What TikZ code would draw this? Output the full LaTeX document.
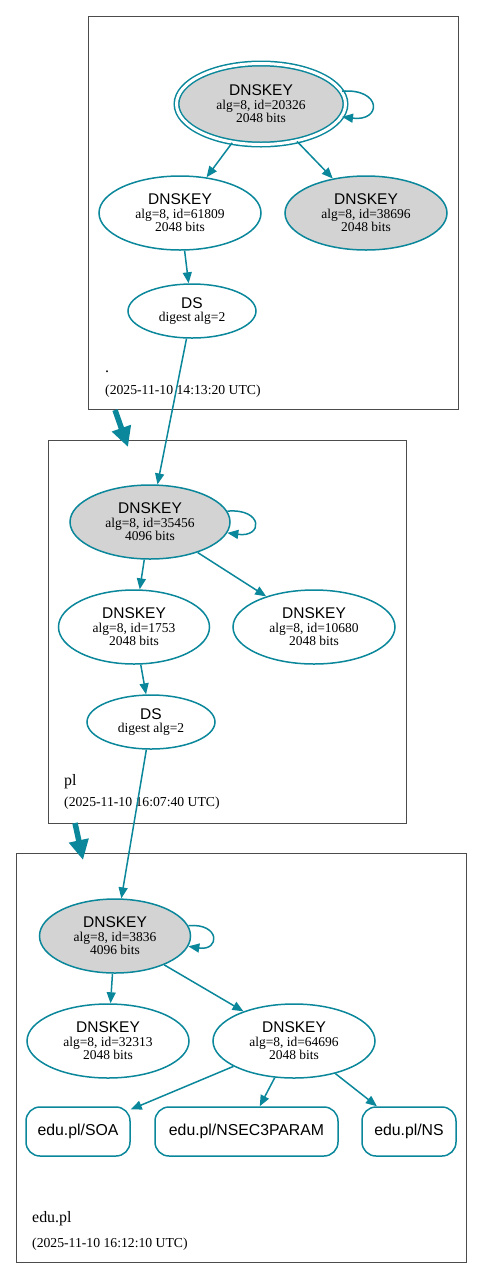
\documentclass[tikz,border=0pt]{standalone}
\usepackage{fontspec}
\setmainfont{Liberation Serif}
\setsansfont{Liberation Sans}
\usetikzlibrary{arrows.meta,positioning}
\usetikzlibrary{shapes.geometric}
\definecolor{secteal}{HTML}{0A879A}
\definecolor{keygray}{HTML}{D3D3D3}
\newcommand{\rrtitle}[1]{{\sffamily\fontsize{15.5}{13.5}\selectfont #1}}

\begin{document}
\begin{tikzpicture}
		[x=1pt,y=-1pt,
		key node/.style={ellipse,draw=secteal,line width=1.5pt,inner sep=0pt,minimum width=162pt,minimum height=74pt,align=center,font=\fontsize{13.5}{13.5}\selectfont},
		ds node/.style={key node,minimum width=128pt,minimum height=54pt},
		rr node/.style={draw=secteal,line width=1.5pt,rounded corners=14pt,minimum height=49pt,inner sep=0pt,font=\sffamily\fontsize{15.8}{16}\selectfont},
		zone box/.style={draw=black!70,line width=0.8pt,anchor=north west,inner sep=0pt},
		zone name/.style={anchor=base west,inner sep=0pt,font=\fontsize{15.9}{16}\selectfont},
		zone time/.style={anchor=base west,inner sep=0pt,font=\fontsize{13.7}{14}\selectfont},
		sig/.style={draw=secteal,line width=1.5pt,-{Triangle[length=11pt,width=9pt]}},
		deleg/.style={draw=secteal,line width=5.5pt,-{Triangle[length=20pt,width=19pt]}}]
		\useasboundingbox (0,0) rectangle (483,1278);
		
		% zones
		\node[zone box,minimum width=370pt,minimum height=393pt] (rootzone) at (88,16) {};
		\node[zone box,minimum width=358pt,minimum height=383pt] (plzone) at (48,440) {};
		\node[zone box,minimum width=450pt,minimum height=409pt] (eduzone) at (16,853) {};
		
		\node[zone name] (rootname) at (105,372) {.};
		\node[zone time] (roottime) at (105,394) {(2025-11-10 14:13:20 UTC)};
		\node[zone name] (plname) at (64,785) {pl};
		\node[zone time] (pltime) at (64,806) {(2025-11-10 16:07:40 UTC)};
		\node[zone name] (eduname) at (32,1222) {edu.pl};
		\node[zone time] (edutime) at (32,1247) {(2025-11-10 16:12:10 UTC)};
		
		% root
		\node[key node,fill=keygray,double=white,double distance=3pt,minimum width=169pt,minimum height=81pt] (rootksk) at (261,104) {\rrtitle{DNSKEY}\\alg=8, id=20326\\2048 bits};
		\node[key node] (rootzsk) at (180,213) {\rrtitle{DNSKEY}\\alg=8, id=61809\\2048 bits};
		\node[key node,fill=keygray] (rootold) at (366,213) {\rrtitle{DNSKEY}\\alg=8, id=38696\\2048 bits};
		\node[ds node] (rootds) at (192,311) {\rrtitle{DS}\\digest alg=2};
		
		% pl
		\node[key node,fill=keygray,minimum width=160pt] (plksk) at (150,522) {\rrtitle{DNSKEY}\\alg=8, id=35456\\4096 bits};
		\node[key node,minimum width=151pt] (plzska) at (134,627) {\rrtitle{DNSKEY}\\alg=8, id=1753\\2048 bits};
		\node[key node] (plzskb) at (314,627) {\rrtitle{DNSKEY}\\alg=8, id=10680\\2048 bits};
		\node[ds node] (plds) at (151,722) {\rrtitle{DS}\\digest alg=2};
		
		% edu.pl
		\node[key node,fill=keygray,minimum width=151pt] (eduksk) at (115,936) {\rrtitle{DNSKEY}\\alg=8, id=3836\\4096 bits};
		\node[key node] (eduzska) at (108,1041) {\rrtitle{DNSKEY}\\alg=8, id=32313\\2048 bits};
		\node[key node] (eduzskb) at (294,1041) {\rrtitle{DNSKEY}\\alg=8, id=64696\\2048 bits};
		\node[rr node,minimum width=104pt] (edusoa) at (78,1131.5) {edu.pl/SOA};
		\node[rr node,minimum width=183pt] (edunsec) at (246.5,1131.5) {edu.pl/NSEC3PARAM};
		\node[rr node,minimum width=94pt] (eduns) at (409,1131.5) {edu.pl/NS};
		
		% signatures and delegations
		\draw[sig] (rootksk.9) .. controls +(40,-3) and +(40,5) .. (rootksk.-9);
		\draw[sig] (rootksk) to (rootzsk);
		\draw[sig] (rootksk) to (rootold);
		\draw[sig] (rootzsk) to (rootds);
		\draw[sig] (rootds) to (plksk);
		
		\draw[sig] (plksk.8) .. controls +(36,-3) and +(36,5) .. (plksk.-8);
		\draw[sig] (plksk) to (plzska);
		\draw[sig] (plksk) to (plzskb);
		\draw[sig] (plzska) to (plds);
		\draw[sig] (plds) to (eduksk);
		
		\draw[sig] (eduksk.8) .. controls +(32,-3) and +(32,5) .. (eduksk.-8);
		\draw[sig] (eduksk) to (eduzska);
		\draw[sig] (eduksk) to (eduzskb);
		\draw[sig] (eduzskb) to (edusoa);
		\draw[sig] (eduzskb) to (edunsec);
		\draw[sig] (eduzskb) to (eduns);
		
		\coordinate (rootout) at (115,410);
		\coordinate (plin) at (128,447);
		\coordinate (plout) at (75,823);
		\coordinate (eduin) at (83,860);
		\draw[deleg] (rootout) -- (plin);
		\draw[deleg] (plout) -- (eduin);
		\end{tikzpicture}
\end{document}
